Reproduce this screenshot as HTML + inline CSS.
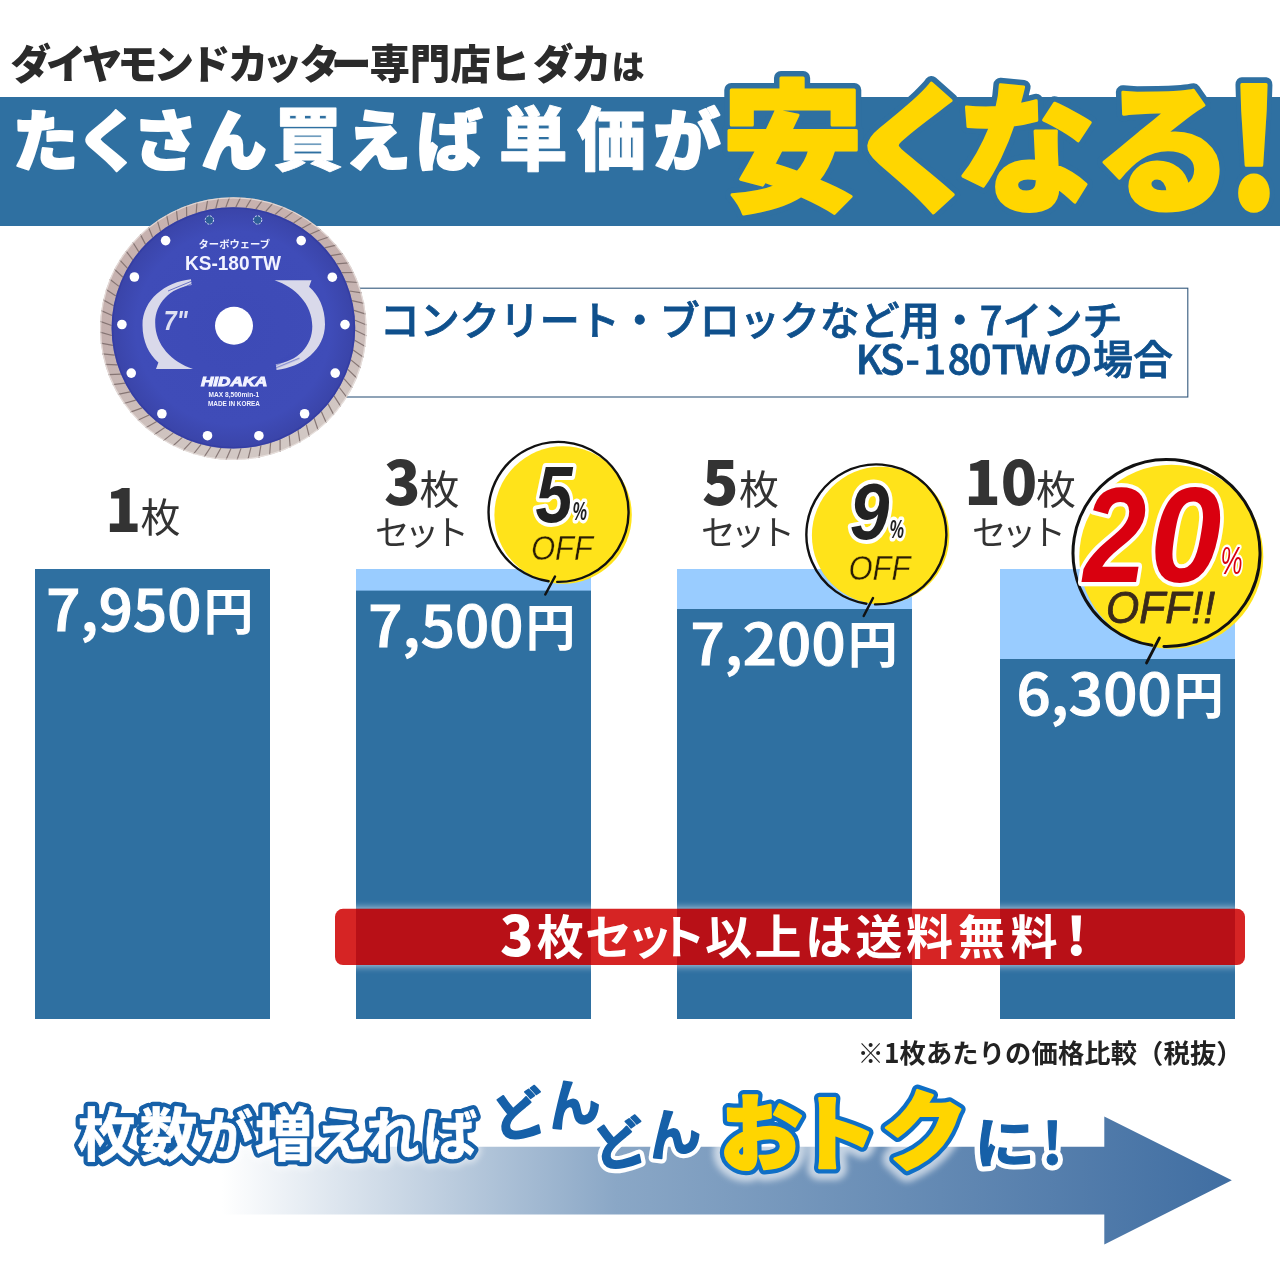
<!DOCTYPE html>
<html lang="ja">
<head>
<meta charset="utf-8">
<title>たくさん買えば単価が安くなる</title>
<style>
html,body{margin:0;padding:0;background:#fff;}
body{width:1280px;height:1280px;overflow:hidden;}
svg{display:block;}
text{font-family:"Liberation Sans","Noto Sans CJK JP",sans-serif;}
.jp{font-family:"Liberation Sans","Noto Sans CJK JP",sans-serif;}
.nl{font-family:"Noto Sans CJK JP","Liberation Sans",sans-serif;}
.blk{font-weight:900;}
.bd{font-weight:700;}
</style>
</head>
<body>
<svg width="1280" height="1280" viewBox="0 0 1280 1280">
<defs>
  <linearGradient id="arrowg" x1="0" y1="0" x2="1" y2="0">
    <stop offset="0" stop-color="#ffffff"/>
    <stop offset="0.18" stop-color="#ffffff"/>
    <stop offset="0.5" stop-color="#8aa7c6"/>
    <stop offset="1" stop-color="#406ea2"/>
  </linearGradient>
  <linearGradient id="redg" x1="0" y1="0" x2="1" y2="0">
    <stop offset="0" stop-color="#e03a3a"/>
    <stop offset="0.06" stop-color="#b3111b"/>
    <stop offset="0.94" stop-color="#b3111b"/>
    <stop offset="1" stop-color="#e03a3a"/>
  </linearGradient>
  <radialGradient id="discg" cx="0.5" cy="0.5" r="0.5">
    <stop offset="0" stop-color="#3d4ab6"/>
    <stop offset="0.8" stop-color="#3f4cb8"/>
    <stop offset="1" stop-color="#3a44a8"/>
  </radialGradient>
  <filter id="glow" x="-5%" y="-40%" width="110%" height="180%"><feGaussianBlur stdDeviation="4"/></filter>
  <clipPath id="banclip"><path clip-rule="evenodd" d="M0,880H1280V1000H0Z M343,908.8H1237a8,8 0 0 1 8,8V957a8,8 0 0 1 -8,8H343a8,8 0 0 1 -8,-8V916.8a8,8 0 0 1 8,-8Z"/></clipPath>
  <filter id="soft" x="-10%" y="-30%" width="120%" height="160%"><feGaussianBlur stdDeviation="3"/></filter>
  <linearGradient id="rimg" x1="0" y1="0" x2="0.3" y2="1">
    <stop offset="0" stop-color="#c9b3b0"/>
    <stop offset="0.5" stop-color="#c4b0ae"/>
    <stop offset="1" stop-color="#d2c8c4"/>
  </linearGradient>
</defs>
<rect width="1280" height="1280" fill="#fff"/>

<!-- HEADER -->
<g id="header">
<text class="jp blk" x="10.6 45.7 81.8 117.2 153.5 190 227.7 262 299.6 331 369.6 409.8 450.5 489.6 533 571" y="79" font-size="40.5" fill="#2b2b2b">ダイヤモンドカッター専門店ヒダカ</text>
<text class="jp blk" x="611.4" y="79.3" font-size="33" fill="#2b2b2b">は</text>
<rect x="0" y="97" width="1280" height="129" fill="#2f70a1"/>
<g fill="#fff" stroke="#fff" stroke-width="2" stroke-linejoin="round" font-size="66">
<text class="jp blk" y="165"><tspan x="12.4">た</tspan><tspan x="75.6">く</tspan><tspan x="132.6">さ</tspan><tspan x="200.7">ん</tspan><tspan x="273.6" font-size="69" stroke-width="0.9">買</tspan><tspan x="345">え</tspan><tspan x="416.7">ば</tspan><tspan x="498.8" font-size="69" stroke-width="0.9">単</tspan><tspan x="577" font-size="69" stroke-width="0.9">価</tspan><tspan x="653.5" font-size="67">が</tspan></text>
</g>
<g font-size="140" fill="#ffd600" stroke-linejoin="round">
<text class="jp blk" y="200.5" stroke="#2f70a1" stroke-width="14"><tspan x="721.5" y="199.5" font-size="142">安</tspan><tspan x="846" y="200.3">く</tspan><tspan x="956" y="200.5">な</tspan><tspan x="1093.5" y="201">る</tspan></text>
<text class="jp blk" y="200.5" stroke="#ffd600" stroke-width="3"><tspan x="721.5" y="199.5" font-size="142">安</tspan><tspan x="846" y="200.3">く</tspan><tspan x="956" y="200.5">な</tspan><tspan x="1093.5" y="201">る</tspan></text>
<g transform="translate(1227,208.5) scale(0.97,1.156)">
<text class="nl blk" x="0" y="0" stroke="#2f70a1" stroke-width="13">!</text>
<text class="nl blk" x="0" y="0" stroke="#ffd600" stroke-width="3">!</text>
</g>
</g>
</g>

<!-- DESCBOX -->
<g id="descbox">
<rect x="330" y="288.2" width="857.8" height="108.8" fill="#fff" stroke="#33587c" stroke-width="1.1"/>
<text class="nl" font-weight="500" stroke="#0f508c" stroke-width="0.8" x="379.7" y="335.3" font-size="40" fill="#0f508c">コンクリート・ブロックなど用・7インチ</text>
<text class="nl" font-weight="500" stroke="#0f508c" stroke-width="0.8" x="1176.2" y="374.3" dx="-3.3 -1.7 0.5 3.5 1.7 -1.9 0.2 -1.2 2.2" font-size="40" fill="#0f508c" text-anchor="end">KS-180TWの場合</text>
</g>
<!-- DISC -->
<g id="disc">
<ellipse cx="233.3" cy="328.6" rx="133.3" ry="131.4" fill="url(#rimg)"/>
<path d="M355.2,330.3L366.4,335.8M354.6,340.3L365.3,346.6M353.1,350.1L363.4,357.3M350.9,359.9L360.5,367.8M347.8,369.4L356.8,378.0M343.9,378.6L352.2,387.9M339.3,387.5L346.9,397.4M334.0,395.9L340.7,406.4M328.0,403.9L333.8,414.9M321.3,411.4L326.3,422.8M314.1,418.3L318.1,430.0M306.3,424.6L309.3,436.6M298.0,430.2L300.0,442.4M289.2,435.2L290.2,447.4M280.1,439.4L280.1,451.7M270.6,442.8L269.6,455.0M260.9,445.5L258.9,457.6M251.0,447.3L248.0,459.2M241.0,448.4L237.0,459.9M231.0,448.6L226.0,459.8M220.9,448.0L215.0,458.8M211.0,446.5L204.2,456.8M201.1,444.3L193.5,454.0M191.6,441.3L183.2,450.3M182.3,437.4L173.1,445.8M173.3,432.9L163.5,440.6M164.8,427.6L154.4,434.5M156.7,421.6L145.8,427.7M149.1,415.0L137.8,420.2M142.2,407.9L130.4,412.1M135.8,400.1L123.8,403.5M130.1,391.9L117.9,394.3M125.1,383.2L112.8,384.7M120.9,374.2L108.5,374.7M117.4,364.8L105.0,364.4M114.8,355.2L102.5,353.8M112.9,345.4L100.8,343.1M111.8,335.5L100.1,332.2M111.6,325.5L100.2,321.4M112.2,315.5L101.3,310.6M113.7,305.7L103.2,299.9M115.9,295.9L106.1,289.4M119.0,286.4L109.8,279.2M122.9,277.2L114.4,269.3M127.5,268.3L119.7,259.8M132.8,259.9L125.9,250.8M138.8,251.9L132.8,242.3M145.5,244.4L140.3,234.4M152.7,237.5L148.5,227.2M160.5,231.2L157.3,220.6M168.8,225.6L166.6,214.8M177.6,220.6L176.4,209.8M186.7,216.4L186.5,205.5M196.2,213.0L197.0,202.2M205.9,210.3L207.7,199.6M215.8,208.5L218.6,198.0M225.8,207.4L229.6,197.3M235.8,207.2L240.6,197.4M245.9,207.8L251.6,198.4M255.8,209.3L262.4,200.4M265.7,211.5L273.1,203.2M275.2,214.5L283.4,206.9M284.5,218.4L293.5,211.4M293.5,222.9L303.1,216.6M302.0,228.2L312.2,222.7M310.1,234.2L320.8,229.5M317.7,240.8L328.8,237.0M324.6,247.9L336.2,245.1M331.0,255.7L342.8,253.7M336.7,263.9L348.7,262.9M341.7,272.6L353.8,272.5M345.9,281.6L358.1,282.5M349.4,291.0L361.6,292.8M352.0,300.6L364.1,303.4M353.9,310.4L365.8,314.1M355.0,320.3L366.5,325.0" stroke="#7a6a68" stroke-width="1.2" fill="none" opacity="0.85"/>
<ellipse cx="233.3" cy="328.6" rx="132.70000000000002" ry="130.8" fill="none" stroke="#efe8e6" stroke-width="1.2" opacity="0.7"/>
<ellipse cx="233.4" cy="327.9" rx="121.8" ry="120.7" fill="url(#discg)"/>
<ellipse cx="233.4" cy="327.9" rx="121.0" ry="119.9" fill="none" stroke="#3038a0" stroke-width="1.6" opacity="0.55"/>
<circle cx="209.4" cy="220" r="4.2" fill="#2d5e96" stroke="#e8ecff" stroke-width="0.9" stroke-dasharray="2 1.3"/>
<circle cx="257.6" cy="220" r="4.2" fill="#2d5e96" stroke="#e8ecff" stroke-width="0.9" stroke-dasharray="2 1.3"/>
<circle cx="165.6" cy="240.6" r="4.8" fill="#fff"/>
<circle cx="301.2" cy="240.6" r="4.8" fill="#fff"/>
<circle cx="134.4" cy="277" r="4.8" fill="#fff"/>
<circle cx="332.3" cy="277.2" r="4.8" fill="#fff"/>
<circle cx="121.9" cy="324.5" r="4.8" fill="#fff"/>
<circle cx="345" cy="324.6" r="4.8" fill="#fff"/>
<circle cx="131.25" cy="373.1" r="4.8" fill="#fff"/>
<circle cx="335.2" cy="373.1" r="4.8" fill="#fff"/>
<circle cx="161.9" cy="413.75" r="4.8" fill="#fff"/>
<circle cx="304.6" cy="413.75" r="4.8" fill="#fff"/>
<circle cx="207.5" cy="435.7" r="4.8" fill="#fff"/>
<circle cx="258.9" cy="435.7" r="4.8" fill="#fff"/>
<circle cx="234" cy="325.7" r="19" fill="#fff"/>
<g fill="#d9d9ea">
<path d="M191,279.3 C165,282 142.5,300 142.5,325 C142.5,342 149,354 158.4,362.5 L156,369 L193,369 C172,362 155.2,345 155.2,323 C155.2,303 170,288 191.7,285 Z"/>
<path d="M191,279.3 C165,282 142.5,300 142.5,325 C142.5,342 149,354 158.4,362.5 L156,369 L193,369 C172,362 155.2,345 155.2,323 C155.2,303 170,288 191.7,285 Z" transform="rotate(180 233.75 324.6)"/>
</g>
<g stroke="#3f4cb8" stroke-width="0.9" fill="none" opacity="0.8">
<path d="M168,291 L192,281 M170.5,294 L192.5,283.3 M173,297 L192,285.8"/>
<path d="M168,291 L192,281 M170.5,294 L192.5,283.3 M173,297 L192,285.8" transform="rotate(180 233.75 324.6)"/>
</g>
<g fill="#f2f3ff" font-weight="700" text-anchor="middle">
<text class="jp" x="234.3" y="248.3" font-size="10.6" textLength="71.5" lengthAdjust="spacingAndGlyphs">ターボウェーブ</text>
<text x="233" y="269.6" font-size="19.5" textLength="96" lengthAdjust="spacingAndGlyphs" word-spacing="-3.5">KS-180 TW</text>
<text x="175.8" y="329.7" font-size="28" font-style="italic" fill="#dfe0f2" textLength="24" lengthAdjust="spacingAndGlyphs">7"</text>
<text x="234.2" y="385.7" font-size="12.5" font-style="italic" textLength="66.5" lengthAdjust="spacingAndGlyphs" stroke="#f2f3ff" stroke-width="0.9">HIDAKA</text>
<text x="233.8" y="397.3" font-size="6.4" textLength="50.5" lengthAdjust="spacingAndGlyphs" font-weight="700">MAX 8,500min-1</text>
<text x="234" y="406.3" font-size="6.8" textLength="52" lengthAdjust="spacingAndGlyphs" font-weight="700">MADE IN KOREA</text>
</g>
</g>

<!-- BARS -->
<g id="bars">
<rect x="35" y="569" width="235" height="450" fill="#2f70a1"/>
<rect x="356" y="569" width="235" height="450" fill="#2f70a1"/>
<rect x="356" y="569" width="235" height="21.6" fill="#99ccff"/>
<rect x="677" y="569" width="235" height="450" fill="#2f70a1"/>
<rect x="677" y="569" width="235" height="40" fill="#99ccff"/>
<rect x="1000" y="569" width="235" height="450" fill="#2f70a1"/>
<rect x="1000" y="569" width="235" height="90" fill="#99ccff"/>
</g>

<!-- LABELS -->
<g id="labels" fill="#333">
<text class="nl blk" x="105.3" y="532.3" font-size="59">1</text>
<text class="jp" x="140.5" y="531.5" font-size="40">枚</text>
<text class="nl blk" x="384" y="505" font-size="60">3</text>
<text class="jp" x="419.5" y="503.5" font-size="40">枚</text>
<text class="jp" x="375" y="545" font-size="34.5" letter-spacing="-4.7">セット</text>
<text class="nl blk" x="702" y="505" font-size="60">5</text>
<text class="jp" x="739" y="503.5" font-size="40">枚</text>
<text class="jp" x="701" y="545" font-size="34.5" letter-spacing="-4.7">セット</text>
<text class="nl blk" x="964.2" y="505" font-size="60">10</text>
<text class="jp" x="1036" y="503.5" font-size="40">枚</text>
<text class="jp" x="972" y="545" font-size="34.5" letter-spacing="-4.7">セット</text>
</g>
<!-- CIRCLES -->
<g id="circles">
<g id="c1">
<circle cx="563.1" cy="515" r="68.7" fill="#ffe31a"/>
<path d="M557.2,581.9 A70,70 0 1 0 548.6,581.2" fill="none" stroke="#111" stroke-width="2.4" stroke-linecap="round"/>
<line x1="555" y1="576.5" x2="545.3" y2="594.5" stroke="#111" stroke-width="2.5" stroke-linecap="round"/>
<g font-style="italic" font-weight="700" stroke-linejoin="round">
<text transform="translate(535.5,522.3) scale(0.83,1)" x="0" y="0" font-size="80" fill="#222" stroke="#fff" stroke-width="8" paint-order="stroke">5</text>
<text x="572.5" y="520" font-size="25" font-weight="700" fill="#222" stroke="#fff" stroke-width="7" paint-order="stroke" textLength="14.5" lengthAdjust="spacingAndGlyphs">%</text>
<text x="531" y="560" font-size="35.5" font-weight="400" fill="#2a1c05" stroke="#ffe31a" stroke-width="0.35" textLength="62" lengthAdjust="spacingAndGlyphs">OFF</text>
</g>
</g>
<g id="c2" transform="translate(317.5,20.5)">
<circle cx="563.1" cy="515" r="68.7" fill="#ffe31a"/>
<path transform="translate(0.3,2)" d="M557.2,581.9 A70,70 0 1 0 548.6,581.2" fill="none" stroke="#111" stroke-width="2.4" stroke-linecap="round"/>
<line x1="555.5" y1="577.5" x2="546.2" y2="595.5" stroke="#111" stroke-width="2.5" stroke-linecap="round"/>
<g font-style="italic" font-weight="700" stroke-linejoin="round">
<text transform="translate(532.3,518.8) scale(0.89,1)" x="0" y="0" font-size="80" fill="#222" stroke="#fff" stroke-width="8" paint-order="stroke">9</text>
<text x="572" y="517.5" font-size="25" font-weight="700" fill="#222" stroke="#fff" stroke-width="7" paint-order="stroke" textLength="14.5" lengthAdjust="spacingAndGlyphs">%</text>
<text x="531" y="559" font-size="35.5" font-weight="400" fill="#2a1c05" stroke="#ffe31a" stroke-width="0.35" textLength="62" lengthAdjust="spacingAndGlyphs">OFF</text>
</g>
</g>
<g id="c3">
<circle cx="1171.3" cy="556.8" r="92" fill="#ffe31a"/>
<path d="M1164,646.4 A93.5,93.5 0 1 0 1152,645.3" fill="none" stroke="#111" stroke-width="3" stroke-linecap="round"/>
<line x1="1159.4" y1="638" x2="1146.5" y2="663" stroke="#111" stroke-width="2.8" stroke-linecap="round"/>
<g font-style="italic" font-weight="700" stroke-linejoin="round">
<text transform="translate(1150,582.2) scale(0.944,1)" x="0" y="0" font-size="136" fill="#d9000f" stroke="#fff" stroke-width="8" paint-order="stroke">0</text><text transform="translate(1083.2,582.2) scale(0.835,1)" x="0" y="0" font-size="136" fill="#d9000f" stroke="#fff" stroke-width="8.4" paint-order="stroke">2</text>
<text x="1220.5" y="574.3" font-size="38" font-weight="400" fill="#d9000f" stroke="#fff" stroke-width="5" paint-order="stroke" textLength="22" lengthAdjust="spacingAndGlyphs">%</text>
<text x="1106" y="623" font-size="43.5" font-weight="400" fill="#3a2a1a" stroke="#3a2a1a" stroke-width="0.8" textLength="109" lengthAdjust="spacingAndGlyphs">OFF!!</text>
</g>
</g>
</g>
<!-- PRICES -->
<g id="prices" fill="#fff" stroke="#fff" stroke-width="1.1" font-size="57" font-weight="500">
<g transform="translate(46.3,631)"><text class="nl" x="0" y="0" transform="scale(1.05,1)" letter-spacing="0.2">7,950</text><text class="jp" x="157.3" y="-1.2" font-size="50" font-weight="700" stroke="none">円</text></g>
<g transform="translate(368.3,647)"><text class="nl" x="0" y="0" transform="scale(1.05,1)" letter-spacing="0.2">7,500</text><text class="jp" x="157.3" y="-1.2" font-size="50" font-weight="700" stroke="none">円</text></g>
<g transform="translate(690.4,664.6)"><text class="nl" x="0" y="0" transform="scale(1.05,1)" letter-spacing="0.2">7,200</text><text class="jp" x="157.3" y="-1.2" font-size="50" font-weight="700" stroke="none">円</text></g>
<g transform="translate(1016.5,715.2)"><text class="nl" x="0" y="0" transform="scale(1.05,1)" letter-spacing="0.2">6,300</text><text class="jp" x="157.3" y="-1.2" font-size="50" font-weight="700" stroke="none">円</text></g>
</g>

<!-- BANNER -->
<g id="banner">
<g clip-path="url(#banclip)"><rect x="337" y="908.8" width="906" height="56.2" rx="8" ry="8" fill="#fff" opacity="0.8" filter="url(#glow)"/></g>
<rect x="335" y="908.8" width="910" height="56.2" rx="8" ry="8" fill="#cf0000" opacity="0.86"/>
<g fill="#fff" font-weight="700" font-size="47">
<text class="nl" x="500" y="956" font-size="55" font-weight="900">3</text>
<text class="jp" y="954.3" x="536.8 585 626 658.8 705 754.5 805 855.5 906 958 1010.5">枚セット以上は送料無料</text>
<text class="nl" x="1066" y="955" font-size="52" font-weight="900">!</text>
</g>
</g>

<!-- NOTE -->
<text class="nl bd" x="857.5" y="1063" font-size="26.3" fill="#222" letter-spacing="0.1">※1枚あたりの価格比較（税抜）</text>
<!-- ARROW -->
<g id="arrow">
<path d="M0,1146.8 H1104.3 V1116.4 L1231.8,1180.3 L1104.3,1244.4 V1214.6 H0 Z" fill="url(#arrowg)"/>
<g stroke-linejoin="round" stroke-linecap="round">
<g font-size="54" class="jp bd">
<text class="jp bd" y="1155.5" fill="#fff" stroke="#fff" stroke-width="15" opacity="0.5" filter="url(#soft)"><tspan x="77.5" font-size="58">枚</tspan><tspan x="139.5" font-size="58">数</tspan><tspan x="199.3">が</tspan><tspan x="254.5" font-size="58">増</tspan><tspan x="313.8">え</tspan><tspan x="365.8">れ</tspan><tspan x="423.2">ば</tspan></text>
<text class="jp bd" y="1155.5" fill="#fff" stroke="#1660a8" stroke-width="9"><tspan x="77.5" font-size="58">枚</tspan><tspan x="139.5" font-size="58">数</tspan><tspan x="199.3">が</tspan><tspan x="254.5" font-size="58">増</tspan><tspan x="313.8">え</tspan><tspan x="365.8">れ</tspan><tspan x="423.2">ば</tspan></text>
<text class="jp bd" y="1155.5" fill="#fff" stroke="#fff" stroke-width="0.6"><tspan x="77.5" font-size="58">枚</tspan><tspan x="139.5" font-size="58">数</tspan><tspan x="199.3">が</tspan><tspan x="254.5" font-size="58">増</tspan><tspan x="313.8">え</tspan><tspan x="365.8">れ</tspan><tspan x="423.2">ば</tspan></text>
</g>
<g font-size="54" fill="#1660a8" font-weight="700">
<g transform="translate(496.5,1140.5) rotate(-12.5)">
<text class="jp" x="0" y="0" stroke="#fff" stroke-width="10" letter-spacing="1">どん</text>
<text class="jp" x="0" y="0" stroke="#1660a8" stroke-width="1.6" letter-spacing="1">どん</text>
</g>
<g transform="translate(597,1170) rotate(-12.5)">
<text class="jp" x="0" y="0" stroke="#fff" stroke-width="10" letter-spacing="1">どん</text>
<text class="jp" x="0" y="0" stroke="#1660a8" stroke-width="1.6" letter-spacing="1">どん</text>
</g>
</g>

<g font-size="83">
<text class="jp blk" fill="#fff" stroke="#fff" stroke-width="24" opacity="0.6" filter="url(#soft)"><tspan x="719.8" y="1163.7" font-size="83">お</tspan><tspan x="795.7" y="1163.7" font-size="82">ト</tspan><tspan x="881.5" y="1163.1" font-size="86">ク</tspan></text>
<text class="jp blk" fill="#ffd500" stroke="#0f6fc6" stroke-width="11"><tspan x="719.8" y="1163.7" font-size="83">お</tspan><tspan x="795.7" y="1163.7" font-size="82">ト</tspan><tspan x="881.5" y="1163.1" font-size="86">ク</tspan></text>
<text class="jp blk" fill="#ffd500" stroke="#ffd500" stroke-width="2.5"><tspan x="719.8" y="1163.7" font-size="83">お</tspan><tspan x="795.7" y="1163.7" font-size="82">ト</tspan><tspan x="881.5" y="1163.1" font-size="86">ク</tspan></text>
</g>
<g fill="#1660a8">
<g transform="translate(974.5,1163.3) scale(1.1,1)" font-size="55" font-weight="700">
<text class="jp" x="0" y="0" stroke="#fff" stroke-width="11">に</text>
<text class="jp" x="0" y="0" stroke="#1660a8" stroke-width="1.2">に</text>
</g>
<g transform="translate(1041.7,1164.2)" font-size="57" font-weight="700">
<text class="nl" x="0" y="0" stroke="#fff" stroke-width="11">!</text>
<text class="nl" x="0" y="0" stroke="#1660a8" stroke-width="1">!</text>
</g>
</g>
</g>
</g>

</svg>
</body>
</html>
